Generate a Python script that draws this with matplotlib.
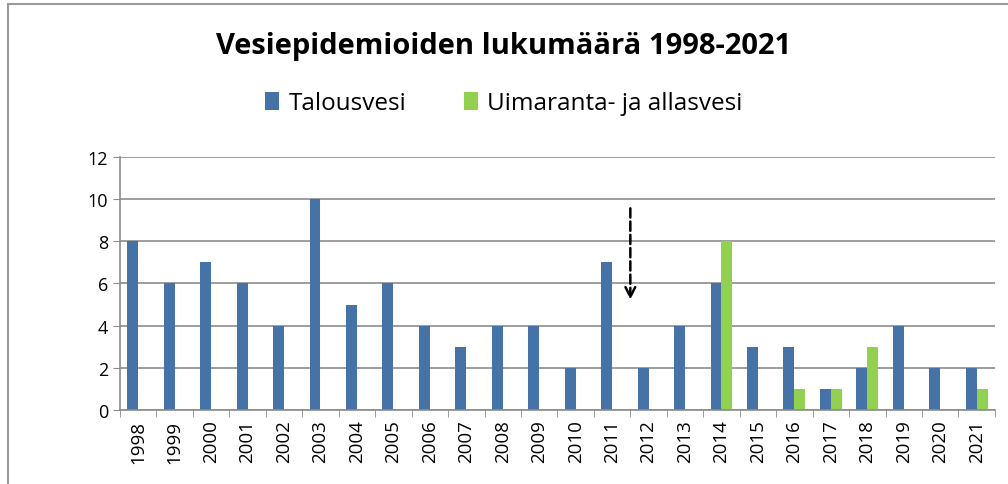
import numpy as np
import matplotlib.pyplot as plt
from matplotlib.patches import Rectangle

years = [str(y) for y in range(1998, 2022)]
talousvesi = [8, 6, 7, 6, 4, 10, 5, 6, 4, 3, 4, 4, 2, 7, 2, 4, 6, 3, 3, 1, 2, 4, 2, 2]
uimavesi = [0, 0, 0, 0, 0, 0, 0, 0, 0, 0, 0, 0, 0, 0, 0, 0, 8, 0, 1, 1, 3, 0, 0, 1]

blue = '#4572a7'
green = '#92d050'

plt.rcParams['font.family'] = ['Open Sans', 'DejaVu Sans']

fig = plt.figure(figsize=(10.08, 4.85), dpi=100)
ax = fig.add_axes([0.119, 0.153, 0.868, 0.521])

x = np.arange(len(years))
w = 0.3
ax.bar(x - w / 2, talousvesi, w, color=blue, label='Talousvesi')
ax.bar(x + w / 2, uimavesi, w, color=green, label='Uimaranta- ja allasvesi')

ax.set_xlim(-0.5, len(years) - 0.5)
ax.set_ylim(0, 12)
ax.set_yticks(range(0, 13, 2))
ax.set_xticks(x)
ax.set_xticklabels(years, rotation=90, fontsize=13.5)
ax.set_xticks(np.arange(-0.5, len(years)), minor=True)
ax.tick_params(axis='x', which='major', length=0, pad=7)
ax.tick_params(axis='x', which='minor', length=5, color='#8c8c8c')
ax.tick_params(axis='y', length=5, color='#8c8c8c', labelsize=13)
ax.grid(axis='y', color='#8c8c8c', linewidth=1.2)
ax.set_axisbelow(True)
for s in ['top', 'right']:
    ax.spines[s].set_visible(False)
for s in ['left', 'bottom']:
    ax.spines[s].set_color('#8c8c8c')
    ax.spines[s].set_linewidth(1.2)

# dashed arrow
ax.annotate('', xy=(13.5, 5.1), xytext=(13.5, 9.7),
            arrowprops=dict(arrowstyle='->, head_width=0.35, head_length=0.7',
                            linestyle='--', color='black', lw=1.8))

fig.text(0.5, 0.905, 'Vesiepidemioiden lukumäärä 1998-2021', ha='center', va='center',
         fontsize=21, fontweight='bold')
fig.legend(loc='center', bbox_to_anchor=(0.5, 0.785), ncol=2, frameon=False,
           fontsize=17.5, handlelength=0.55, handleheight=0.8, columnspacing=2.4, handletextpad=0.4)

fig.patches.append(Rectangle((0.008, -0.1), 1.1, 1.09, transform=fig.transFigure,
                             fill=False, edgecolor='#9a9a9a', linewidth=1.5))

fig.savefig('out.png', dpi=100)
